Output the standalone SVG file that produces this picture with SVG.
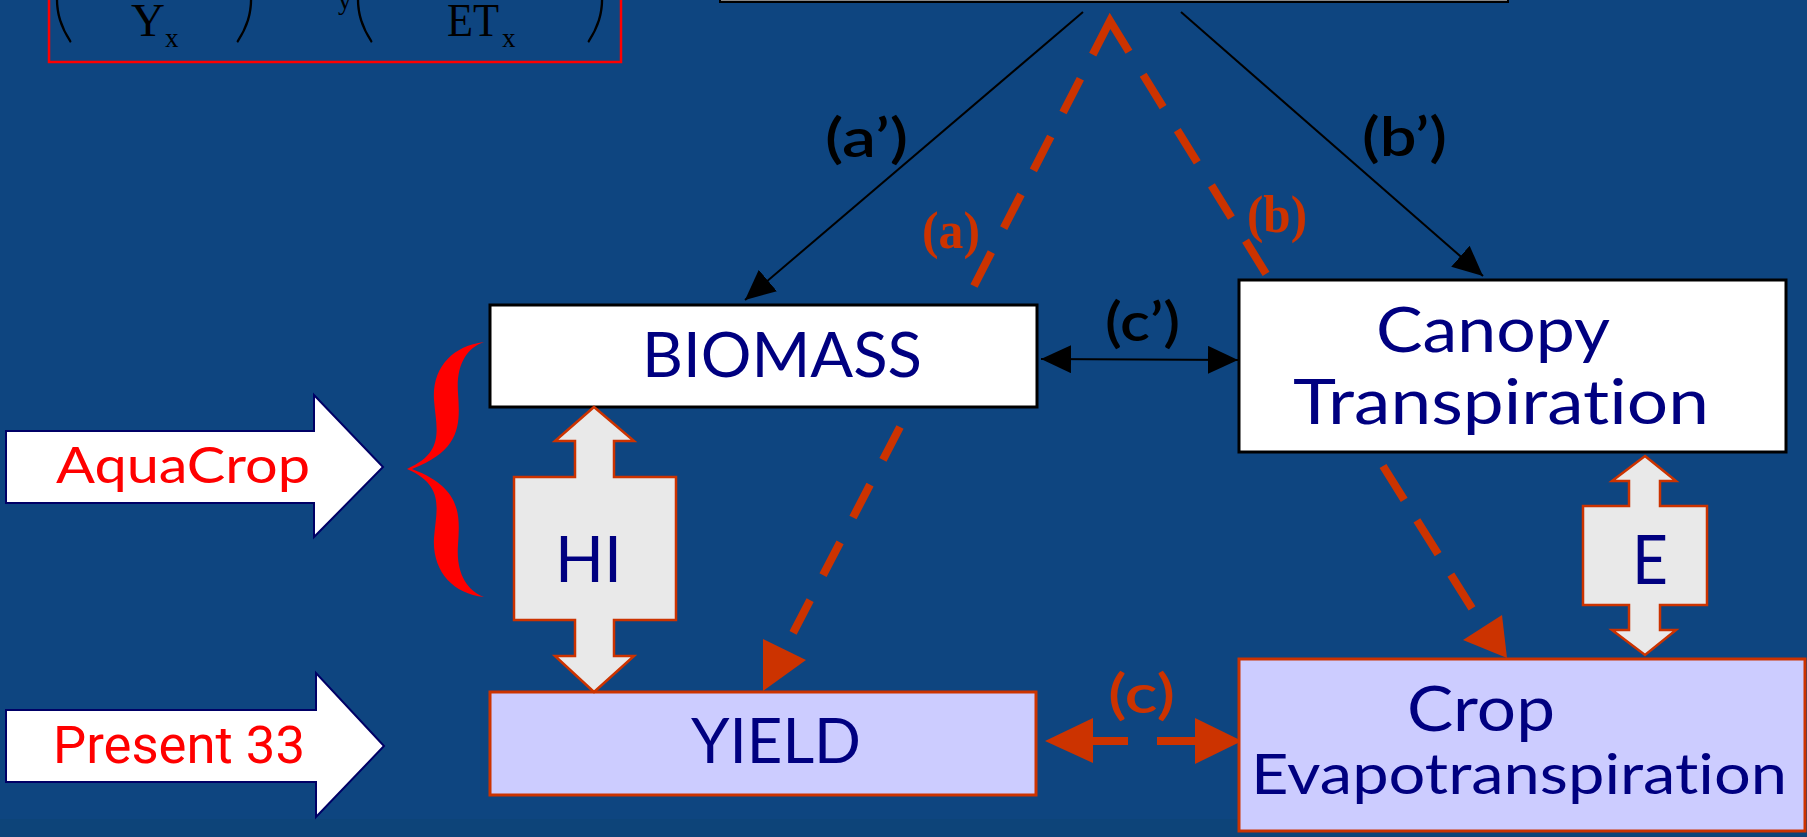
<svg xmlns="http://www.w3.org/2000/svg" width="1807" height="837" viewBox="0 0 1807 837">
<defs>
<style>
.bg{fill:#0E4580}
.box{fill:#FFFFFF;stroke:#000000;stroke-width:3}
.pbox{fill:#CCCCFF;stroke:#CC3300;stroke-width:3}
text{font-variant-ligatures:none}
.lbl{font-family:Lato,"Open Sans","Noto Sans",sans-serif;fill:#000080}
.red{font-family:Lato,"Open Sans",sans-serif;fill:#FF0000}
.blk{font-family:Lato,"Open Sans",sans-serif;fill:#000000;font-weight:600}
.orn{font-family:Lato,"Open Sans",sans-serif;fill:#CC3300;font-weight:600}
.ser{font-family:"Liberation Serif","Times New Roman",serif;fill:#000000}
.par{font-family:Lato,sans-serif;font-weight:100;fill:#000000;stroke:#000000;stroke-width:1.2}
.blockarrow{fill:#FFFFFF;stroke:#000066;stroke-width:2}
.dbl{fill:#E9E9E9;stroke:#CC3300;stroke-width:2.5}
.thin{fill:none;stroke:#000000;stroke-width:2}
.dash{fill:none;stroke:#CC3300;stroke-width:8}
.head{fill:#CC3300}
</style>
<marker id="ah" viewBox="0 0 30 28" refX="30" refY="14" markerWidth="30" markerHeight="28" markerUnits="userSpaceOnUse" orient="auto-start-reverse">
<path d="M0,0 L30,14 L0,28 Z" fill="#000000"/>
</marker>
</defs>
<rect class="bg" x="0" y="0" width="1807" height="837"/>
<rect x="0" y="819" width="1807" height="18" fill="#0D4479"/>

<g id="formula">
<rect x="49" y="-20" width="572" height="82" fill="none" stroke="#FF0000" stroke-width="2.5"/>
<text class="par" x="50" y="30" font-size="100">(</text>
<text class="ser" x="131" y="36" font-size="47">Y</text>
<text class="ser" x="165" y="47" font-size="27">x</text>
<text class="par" x="233" y="30" font-size="100">)</text>
<text class="ser" x="338" y="9" font-size="27">y</text>
<text class="par" x="351" y="30" font-size="100">(</text>
<text class="ser" x="447" y="36" font-size="47" textLength="52" lengthAdjust="spacingAndGlyphs">ET</text>
<text class="ser" x="502" y="47" font-size="27">x</text>
<text class="par" x="584" y="30" font-size="100">)</text>
</g>

<g id="top-box">
<rect x="720" y="-20" width="788" height="22" fill="#888888" stroke="#000000" stroke-width="2"/>
</g>

<g id="connectors">
<path class="thin" d="M1083,12 L745,300" marker-end="url(#ah)"/>
<path class="thin" d="M1181,12 L1483,276" marker-end="url(#ah)"/>
<path class="thin" d="M1041,359 L1238,360" marker-start="url(#ah)" marker-end="url(#ah)"/>
<path class="dash" d="M974,286 L1110,21 L1268,277" stroke-linejoin="miter" stroke-dasharray="38 27 38 27 38 27 38 27 74 27 38 27 38 27 38 27 39 40"/>
<path class="dash" d="M900,427 L793,633" stroke-dasharray="37 28"/>
<polygon class="head" points="763,639 806,660 763,691"/>
<path class="dash" d="M1383,466 L1473,610" stroke-dasharray="40 24"/>
<polygon class="head" points="1502,615 1463,640 1507,658"/>
<polygon class="head" points="1045,741 1093,718 1093,763"/>
<polygon class="head" points="1242,741 1195,718 1195,764"/>
<path class="dash" d="M1093,741 L1195,741" stroke-dasharray="35 29 40"/>
<text class="blk" x="825" y="157" font-size="54" textLength="83" lengthAdjust="spacingAndGlyphs">(a’)</text>
<text class="blk" x="1362" y="156" font-size="54" textLength="85" lengthAdjust="spacingAndGlyphs">(b’)</text>
<text class="blk" x="1105" y="341" font-size="54" textLength="75" lengthAdjust="spacingAndGlyphs">(c’)</text>
<text class="orn" x="1108" y="713" font-size="54" textLength="67" lengthAdjust="spacingAndGlyphs">(c)</text>
<text x="922" y="248" font-size="52" font-weight="bold" fill="#CC3300" font-family="'Liberation Serif','Times New Roman',serif" textLength="58" lengthAdjust="spacingAndGlyphs">(a)</text>
<text x="1247" y="232" font-size="52" font-weight="bold" fill="#CC3300" font-family="'Liberation Serif','Times New Roman',serif" textLength="60" lengthAdjust="spacingAndGlyphs">(b)</text>
</g>

<g id="biomass">
<rect class="box" x="490" y="305" width="547" height="102"/>
<text class="lbl" x="642" y="377" font-size="62" textLength="280" lengthAdjust="spacingAndGlyphs">BIOMASS</text>
</g>

<g id="canopy-transpiration">
<rect class="box" x="1239" y="280" width="547" height="172"/>
<text class="lbl" x="1376" y="352" font-size="62" textLength="234" lengthAdjust="spacingAndGlyphs">Canopy</text>
<text class="lbl" x="1293" y="424" font-size="62" textLength="416" lengthAdjust="spacingAndGlyphs">Transpiration</text>
</g>

<g id="yield">
<rect class="pbox" x="490" y="692" width="546" height="103"/>
<text class="lbl" x="691" y="763" font-size="62" textLength="170" lengthAdjust="spacingAndGlyphs">YIELD</text>
</g>

<g id="crop-evapotranspiration">
<rect class="pbox" x="1239" y="659" width="566" height="172"/>
<text class="lbl" x="1407" y="731" font-size="62" textLength="148" lengthAdjust="spacingAndGlyphs">Crop</text>
<text class="lbl" x="1251" y="794" font-size="56" textLength="536" lengthAdjust="spacingAndGlyphs">Evapotranspiration</text>
</g>

<g id="hi-arrow">
<polygon class="dbl" points="594,407 634,441 614,441 614,477 676,477 676,620 614,620 614,656 634,656 594,692 555,656 575,656 575,620 514,620 514,477 575,477 575,441 555,441"/>
<text class="lbl" x="555" y="582" font-size="64" textLength="67" lengthAdjust="spacingAndGlyphs">HI</text>
</g>

<g id="e-arrow">
<polygon class="dbl" points="1645,456 1676,481 1660,481 1660,506 1707,506 1707,605 1660,605 1660,630 1676,630 1645,655 1612,630 1629,630 1629,605 1583,605 1583,506 1629,506 1629,481 1612,481"/>
<text class="lbl" x="1632" y="584" font-size="68" textLength="36" lengthAdjust="spacingAndGlyphs">E</text>
</g>

<g id="aquacrop">
<polygon class="blockarrow" points="6,431 314,431 314,395 383,467 314,537 314,503 6,503"/>
<text class="red" x="56" y="483" font-size="51" textLength="254" lengthAdjust="spacingAndGlyphs">AquaCrop</text>
</g>

<g id="present-33">
<polygon class="blockarrow" points="6,710 316,710 316,673 384,746 316,817 316,782 6,782"/>
<text x="53" y="763" font-size="51" fill="#FF0000" font-family="Roboto,'Liberation Sans',sans-serif" textLength="252" lengthAdjust="spacingAndGlyphs">Present 33</text>
</g>

<g id="brace">
<path fill="#FF0000" d="M484,342 C452,346 432,368 434,400 C436,428 446,452 407,469 C446,486 436,510 434,538 C432,570 452,594 484,597 C466,590 456,572 458,545 C460,515 462,488 412,469 C462,450 460,423 458,393 C456,366 466,348 484,342 Z"/>
</g>
</svg>
